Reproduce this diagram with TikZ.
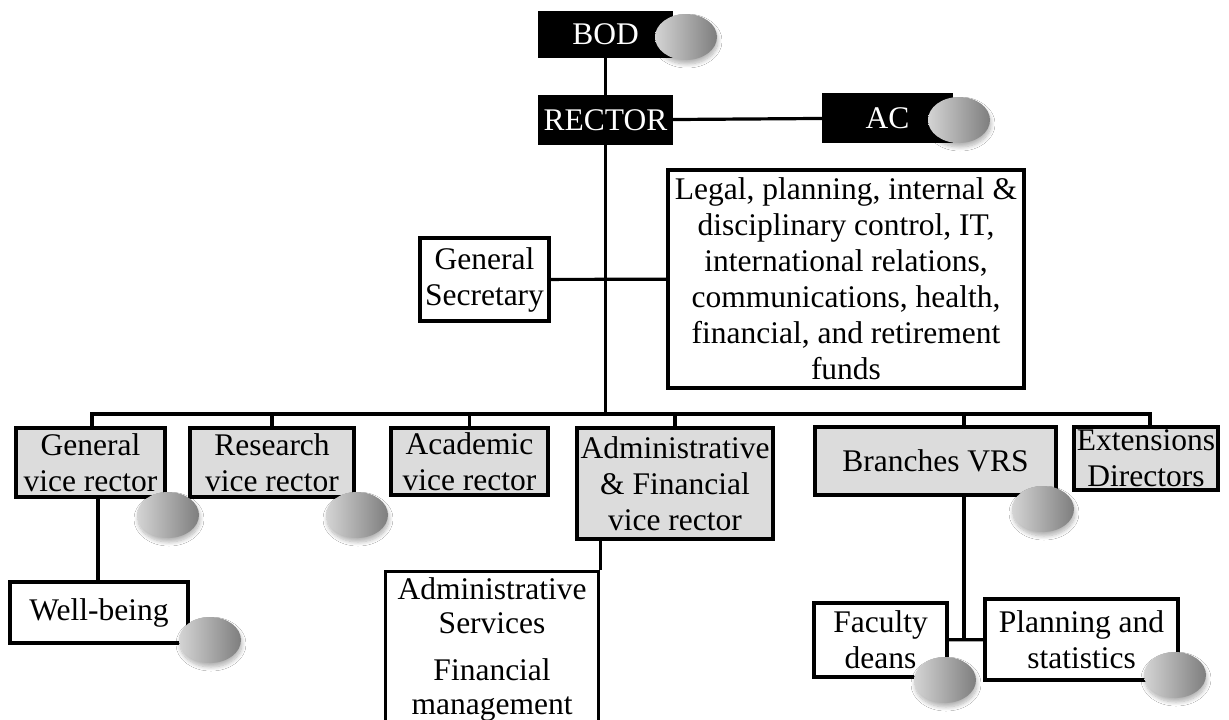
\documentclass[tikz,border=0pt]{standalone}
\usepackage{fontspec}
\setmainfont{Liberation Serif}
\usetikzlibrary{shapes.geometric,shadows.blur}

\definecolor{boxgray}{HTML}{DCDCDC}
\definecolor{ballL}{HTML}{D4D4D4}
\definecolor{ballR}{HTML}{7E7E7E}

\begin{document}
\begin{tikzpicture}[x=1pt,y=-1pt,
  txt/.style={font=\fontsize{31.5}{36}\selectfont, align=center, inner sep=0pt},
  box/.style={txt, draw, line width=3.2pt, rectangle},
  gbox/.style={box, fill=boxgray},
  blackbox/.style={txt, fill=black, text=white, rectangle},
  link/.style={line width=3.2pt},
  ball/.style={ellipse, inner sep=0pt, minimum width=62pt, minimum height=46pt,
    left color=ballL, right color=ballR,
    blur shadow={shadow xshift=1pt, shadow yshift=-4pt, shadow blur radius=4pt,
      shadow blur steps=8, shadow opacity=30}}
]
\clip (0,0) rectangle (1229,720);
\fill[white] (0,0) rectangle (1229,720);

% top of the chart
\node[blackbox, minimum width=135pt, minimum height=47pt] (bod) at (605.5,34.5) {BOD};
\node[blackbox, minimum width=135pt, minimum height=50pt] (rector) at (605.5,120) {RECTOR};
\node[blackbox, minimum width=131pt, minimum height=50pt] (ac) at (887.5,118) {AC};

% staff units beside the trunk
\node[box, minimum width=129pt, minimum height=83pt] (gs) at (484.5,279.5) {General\\Secretary};
\node[box, minimum width=356pt, minimum height=218pt] (legal) at (846,279)
  {Legal, planning, internal \&\\disciplinary control, IT,\\international relations,\\communications, health,\\financial, and retirement\\funds};

% vice rectors and directors
\node[gbox, minimum width=149pt, minimum height=69pt] (gvr) at (90.5,462.5) {General\\vice rector};
\node[gbox, minimum width=164pt, minimum height=69pt] (rvr) at (272,462.5) {Research\\vice rector};
\node[gbox, minimum width=157pt, minimum height=67pt] (avr) at (469.5,461.5) {Academic\\vice rector};
\node[gbox, minimum width=196pt, minimum height=111pt] (afvr) at (675,483.5) {Administrative\\\& Financial\\vice rector};
\node[gbox, minimum width=241pt, minimum height=68pt] (bvr) at (935.5,461) {Branches VRS};
\node[gbox, minimum width=144pt, minimum height=63pt] (ext) at (1146,458.5) {Extensions\\Directors};

% lower units
\node[box, minimum width=178pt, minimum height=61pt] (wb) at (99,612.5) {Well-being};
\node[box, minimum width=213pt, minimum height=170pt, anchor=north west] (as) at (384,570) {};
\node[txt, font=\fontsize{31.5}{34.5}\selectfont, anchor=north] (astext) at ([yshift=-7pt]as.north)
  {Administrative\\Services\\[12pt]Financial\\management};
\node[box, minimum width=133pt, minimum height=74pt] (fd) at (880.5,640) {Faculty\\deans};
\node[box, minimum width=193pt, minimum height=81pt] (ps) at (1081.5,639.5) {Planning and\\statistics};

% connectors
\coordinate (busL) at (92,414);
\coordinate (busR) at (1150,414);
\coordinate (bdrop) at (964,414);
\coordinate (wbdrop) at (98,414);

\draw[link] (bod) -- (rector);
\draw[link] (rector) -- (ac);
\draw[link] (rector.south) -- (rector.south |- busL);
\draw[link] (gs) -- (legal);
\draw[link] ([xshift=-1.6pt]busL) -- ([xshift=1.6pt]busR);
\draw[link] (busL) -- (busL |- gvr.north);
\draw[link] (rvr.north) -- (rvr.north |- busL);
\draw[link] (avr.north) -- (avr.north |- busL);
\draw[link] (afvr.north) -- (afvr.north |- busL);
\draw[link] (bdrop) -- (bdrop |- bvr.north);
\draw[link] (busR) -- (busR |- ext.north);
\draw[link] (wbdrop |- gvr.south) -- (wbdrop |- wb.north);
\draw[link] (afvr.south -| as.north east) -- (as.north east);
\draw[link] (bdrop |- bvr.south) -- (bdrop |- fd.east);
\draw[link] (fd) -- (ps);

% shaded markers
\node[ball] (bbod) at (686,37) {};
\node[ball] (bac) at (959,120) {};
\node[ball] (bgvr) at (168,515) {};
\node[ball] (brvr) at (357,515) {};
\node[ball] (bbvr) at (1043,509) {};
\node[ball] (bwb) at (210,640) {};
\node[ball] (bfd) at (945,680) {};
\node[ball] (bps) at (1175,675) {};
\end{tikzpicture}
\end{document}
